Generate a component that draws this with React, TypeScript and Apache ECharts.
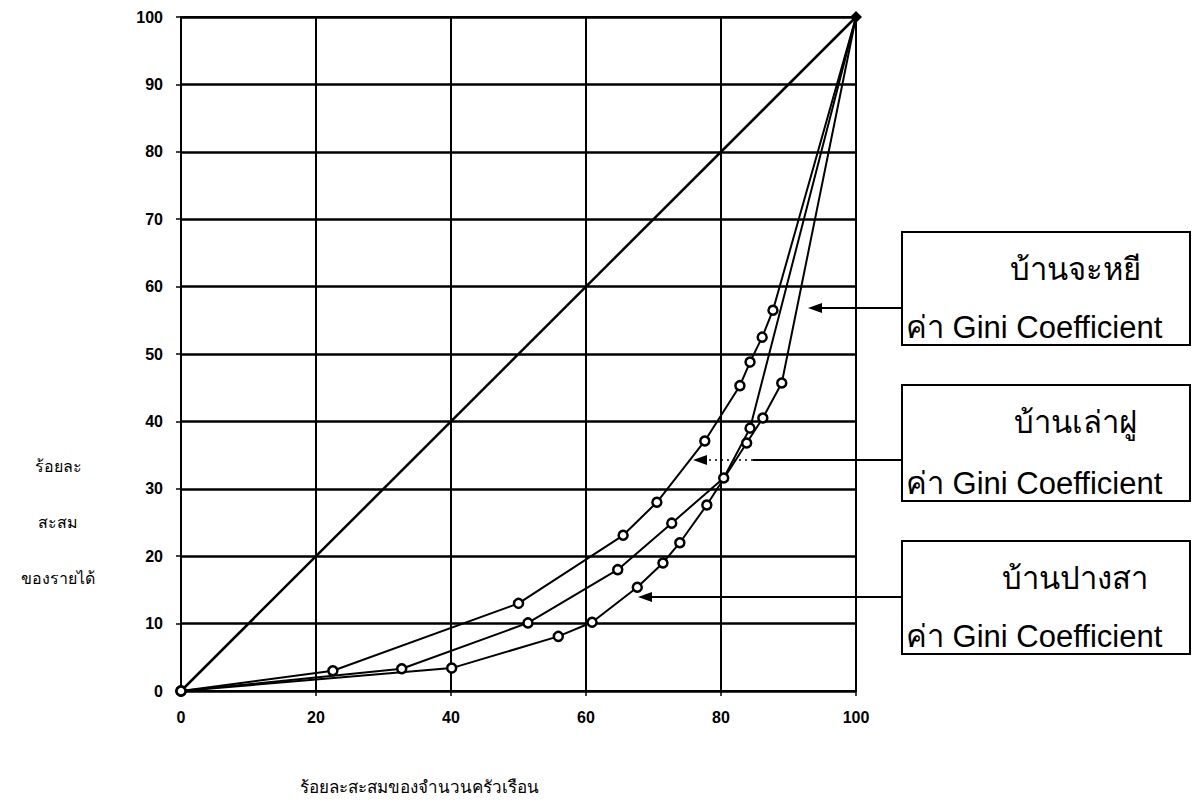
import React, { useEffect, useRef } from "react";
import * as echarts from "echarts";

const xTicks = [0, 20, 40, 60, 80, 100];
const yTicks = [0, 10, 20, 30, 40, 50, 60, 70, 80, 90, 100];

const equalityX = [0, 100];
const equalityY = [0, 100];

// บ้านเล่าฝู (upper curve)
const laofuX = [0, 22.5, 50, 65.5, 70.5, 77.6, 82.8, 84.3, 86.1, 87.7, 100];
const laofuY = [0, 3, 13, 23.1, 28, 37.1, 45.3, 48.8, 52.5, 56.5, 100];

// บ้านปางสา (middle curve)
const pangsaX = [0, 32.7, 51.4, 64.7, 72.7, 80.4, 84.3, 100];
const pangsaY = [0, 3.3, 10.1, 18, 24.9, 31.6, 39, 100];

// บ้านจะหยี (lower curve)
const chayiX = [0, 40.1, 55.9, 60.9, 67.6, 71.4, 73.9, 77.9, 83.8, 86.2, 89, 100];
const chayiY = [0, 3.4, 8.1, 10.2, 15.4, 19, 22, 27.6, 36.8, 40.5, 45.7, 100];

const boxTitles = ["บ้านจะหยี", "บ้านเล่าฝู", "บ้านปางสา"];
const giniLabel = "ค่า Gini Coefficient";
const yTitleLines = ["ร้อยละ", "สะสม", "ของรายได้"];
const xTitle = "ร้อยละสะสมของจำนวนครัวเรือน";

const zip = (xs: number[], ys: number[]) => xs.map((x, i) => [x, ys[i]]);

const thaiFont = "'Noto Sans', 'DejaVu Sans', serif";
const sansFont = "'Liberation Sans', Arial, sans-serif";

export default function App() {
  const ref = useRef<HTMLDivElement>(null);
  useEffect(() => {
    if (!ref.current) return;
    const chart = echarts.init(ref.current, undefined, { renderer: "svg" });

    const curve = (name: string, xs: number[], ys: number[]) => ({
      name,
      type: "line",
      data: zip(xs, ys).map((p, i, arr) =>
        i === arr.length - 1 ? { value: p, symbol: "none" } : { value: p }
      ),
      symbol: "circle",
      symbolSize: 9,
      showSymbol: true,
      lineStyle: { color: "#000", width: 2 },
      itemStyle: { color: "#fff", borderColor: "#000", borderWidth: 2.5 },
      z: 7,
    });

    const boxes = [
      { top: 232, h: 113, conY: 308, tipX: 808, dotFrom: null as number | null },
      { top: 385, h: 116, conY: 460, tipX: 693, dotFrom: 753 },
      { top: 541, h: 113, conY: 597, tipX: 638, dotFrom: null },
    ];
    const boxLeft = 902;
    const boxW = 288;

    const graphics: any[] = [];
    boxes.forEach((b, i) => {
      graphics.push({
        type: "rect",
        shape: { x: boxLeft, y: b.top, width: boxW, height: b.h },
        style: { fill: "#fff", stroke: "#000", lineWidth: 2 },
        z: 10,
      });
      graphics.push({
        type: "text",
        x: 1075,
        y: b.top + 36,
        style: {
          text: boxTitles[i],
          font: `31px ${thaiFont}`,
          fill: "#000",
          align: "center",
          verticalAlign: "middle",
        },
        z: 11,
      });
      graphics.push({
        type: "text",
        x: boxLeft + 4,
        y: b.top + b.h - 18,
        style: {
          text: giniLabel,
          font: `31px ${sansFont}`,
          fill: "#000",
          align: "left",
          verticalAlign: "middle",
        },
        z: 11,
      });
      const solidStart = b.dotFrom !== null ? b.dotFrom : b.tipX + 10;
      graphics.push({
        type: "line",
        shape: { x1: solidStart, y1: b.conY, x2: boxLeft, y2: b.conY },
        style: { stroke: "#000", lineWidth: 2 },
        z: 9,
      });
      if (b.dotFrom !== null) {
        graphics.push({
          type: "line",
          shape: { x1: b.tipX + 10, y1: b.conY, x2: b.dotFrom, y2: b.conY },
          style: { stroke: "#000", lineWidth: 1.5, lineDash: [2, 4] },
          z: 9,
        });
      }
      graphics.push({
        type: "polygon",
        shape: {
          points: [
            [b.tipX, b.conY],
            [b.tipX + 14, b.conY - 5],
            [b.tipX + 14, b.conY + 5],
          ],
        },
        style: { fill: "#000" },
        z: 9,
      });
    });

    yTitleLines.forEach((t, i) => {
      graphics.push({
        type: "text",
        x: 58,
        y: 466 + i * 56,
        style: {
          text: t,
          font: `16px ${thaiFont}`,
          fill: "#000",
          align: "center",
          verticalAlign: "middle",
        },
      });
    });
    graphics.push({
      type: "text",
      x: 419,
      y: 786,
      style: {
        text: xTitle,
        font: `17px ${thaiFont}`,
        fill: "#000",
        align: "center",
        verticalAlign: "middle",
      },
    });

    chart.setOption({
      animation: false,
      backgroundColor: "#fff",
      grid: {
        left: 181,
        right: 347,
        top: 17,
        bottom: 117,
        show: true,
        borderColor: "#000",
        borderWidth: 2,
      },
      xAxis: {
        type: "value",
        min: 0,
        max: 100,
        interval: 20,
        axisLine: { show: true, onZero: false, lineStyle: { color: "#000", width: 2 } },
        axisTick: { show: true, length: 5, lineStyle: { color: "#000", width: 1.5 } },
        axisLabel: {
          color: "#000",
          fontSize: 16,
          fontWeight: "bold",
          fontFamily: sansFont,
          margin: 18,
          formatter: (v: number) => (xTicks.includes(v) ? String(v) : ""),
        },
        splitLine: { show: true, lineStyle: { color: "#000", width: 2 } },
      },
      yAxis: {
        type: "value",
        min: 0,
        max: 100,
        interval: 10,
        axisLine: { show: true, onZero: false, lineStyle: { color: "#000", width: 2 } },
        axisTick: { show: true, length: 5, lineStyle: { color: "#000", width: 1.5 } },
        axisLabel: {
          color: "#000",
          fontSize: 16,
          fontWeight: "bold",
          fontFamily: sansFont,
          margin: 18,
          formatter: (v: number) => (yTicks.includes(v) ? String(v) : ""),
        },
        splitLine: { show: true, lineStyle: { color: "#000", width: 2.5 } },
      },
      series: [
        {
          name: "equality",
          type: "line",
          data: zip(equalityX, equalityY).map((p, i) =>
            i === 0 ? { value: p, symbol: "none" } : { value: p }
          ),
          symbol: "diamond",
          symbolSize: 12,
          lineStyle: { color: "#000", width: 2.5 },
          itemStyle: { color: "#000" },
          z: 6,
        },
        curve(boxTitles[1], laofuX, laofuY),
        curve(boxTitles[2], pangsaX, pangsaY),
        curve(boxTitles[0], chayiX, chayiY),
      ],
      graphic: graphics,
    });

    return () => chart.dispose();
  }, []);

  return (
    <div
      ref={ref}
      style={{ position: "fixed", left: 0, top: 0, width: 1203, height: 808, background: "#fff" }}
    />
  );
}
